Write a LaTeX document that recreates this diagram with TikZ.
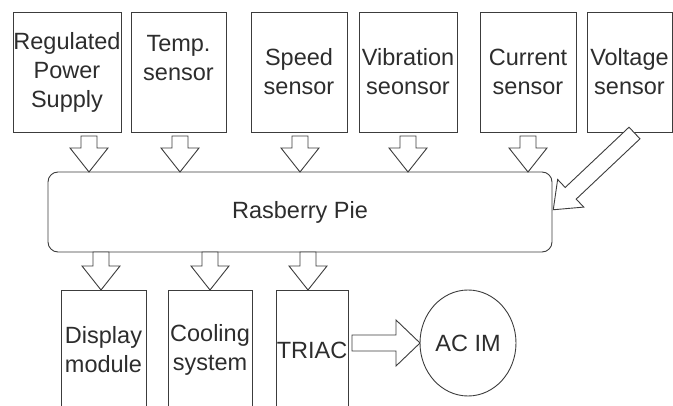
\documentclass[tikz,border=0pt]{standalone}
\usepackage{fontspec}
\setmainfont{Liberation Sans}
\usetikzlibrary{shapes.geometric,calc}
\definecolor{boxline}{RGB}{60,60,60}
\definecolor{boxtext}{RGB}{45,45,45}

\tikzset{
  block/.style={draw=boxline, fill=white, line width=0.9pt, inner sep=0pt, outer sep=0pt,
    align=center, text=boxtext, font=\fontsize{23.5}{29}\selectfont},
  hollow/.style={draw=boxline, fill=white, line width=0.9pt, line join=miter}
}

% flecha hueca de #2 a #3, #1 = media anchura de la punta
\newcommand{\hollowarrow}[3][19pt]{%
  \path[hollow] let \p1=#2, \p2=#3, \n1={veclen(\x2-\x1,\y2-\y1)}, \n2={atan2(\y2-\y1,\x2-\x1)} in
    {[shift={(\p1)}, rotate=\n2] (0pt,-8pt) -- (\n1-24pt,-8pt) -- (\n1-24pt,-#1) -- (\n1,0pt)
      -- (\n1-24pt,#1) -- (\n1-24pt,8pt) -- (0pt,8pt) -- cycle};}

\begin{document}
\begin{tikzpicture}[x=1pt, y=-1pt]
    \useasboundingbox (0,0) rectangle (673,406);
    \clip (0,0) rectangle (673,406);

    % Sensores y fuente
    \node[block, minimum width=108pt, minimum height=120pt] (rps) at (67,72) {Regulated\\Power\\Supply};
    \node[block, minimum width=95pt, minimum height=120pt] (tmp) at (178.5,72) {Temp.\\sensor\\~};
    \node[block, minimum width=96pt, minimum height=120pt] (spd) at (299,72) {Speed\\sensor};
    \node[block, minimum width=98pt, minimum height=120pt] (vib) at (408,72) {Vibration\\seonsor};
    \node[block, minimum width=96pt, minimum height=120pt] (cur) at (528,72) {Current\\sensor};
    \node[block, minimum width=85pt, minimum height=120pt] (vol) at (629.5,72) {Voltage\\sensor};

    % Controlador
    \node[block, rounded corners=10pt, minimum width=504pt, minimum height=80pt] (pi) at (300,212) {Rasberry Pie};

    % Salidas
    \node[block, minimum width=85pt, minimum height=120pt] (disp) at (103.5,350) {Display\\module};
    \node[block, minimum width=84pt, minimum height=120pt] (cool) at (210,350) {Cooling\\system};
    \node[block, minimum width=72pt, minimum height=120pt] (triac) at (312,350) {TRIAC};
    \node[block, ellipse, minimum width=96pt, minimum height=106pt] (acim) at (468,343) {AC IM};

    % Flechas
    \hollowarrow{($(rps.south)+(22,4)$)}{($(rps.south |- pi.north)+(22,0)$)}
    \hollowarrow{($(tmp.south)+(1.5,4)$)}{($(tmp.south |- pi.north)+(1.5,0)$)}
    \hollowarrow{($(spd.south)+(1,4)$)}{($(spd.south |- pi.north)+(1,0)$)}
    \hollowarrow{($(vib.south)+(0,4)$)}{(vib.south |- pi.north)}
    \hollowarrow{($(cur.south)+(0,4)$)}{(cur.south |- pi.north)}
    \hollowarrow{($(vol.south)+(5,1)$)}{($(pi.east)+(1,-2)$)}
    \hollowarrow{($(disp.north |- pi.south)+(-2.5,0)$)}{($(disp.north)+(-2.5,0)$)}
    \hollowarrow{(cool.north |- pi.south)}{(cool.north)}
    \hollowarrow{($(triac.north |- pi.south)+(-4,0)$)}{($(triac.north)+(-4,0)$)}
    \hollowarrow[23pt]{($(triac.east |- acim.west)+(4,0)$)}{(acim.west)}
\end{tikzpicture}
\end{document}
